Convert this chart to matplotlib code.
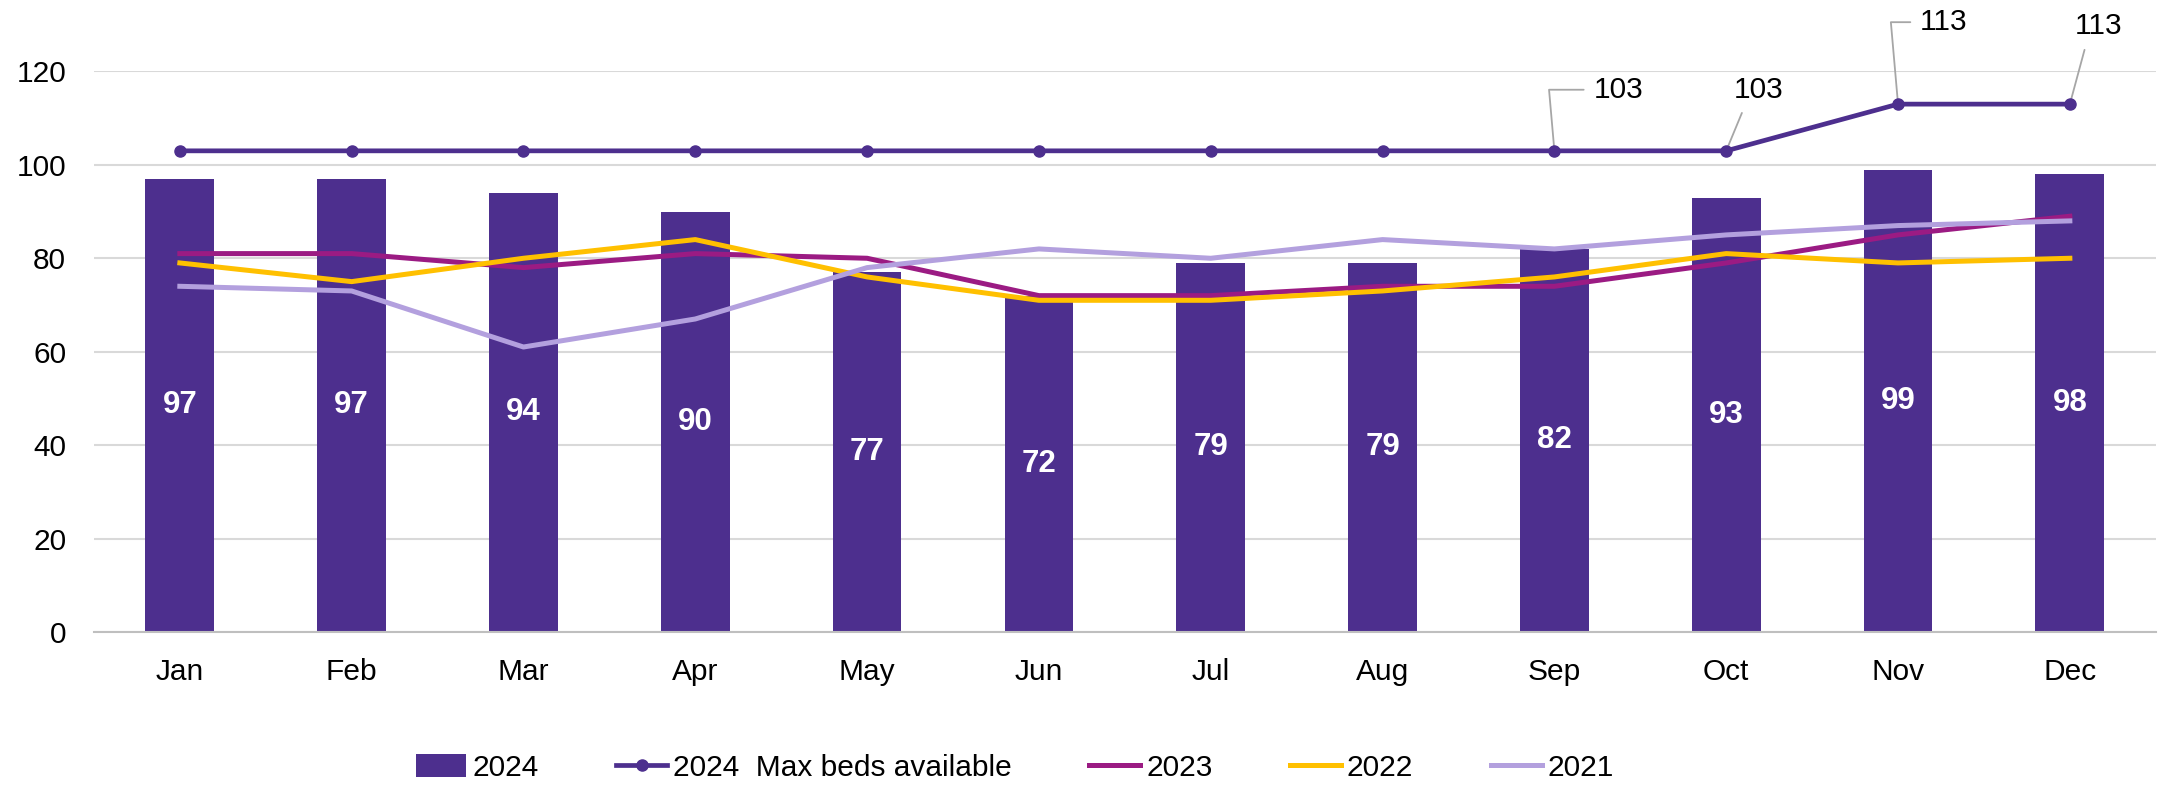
"""
Monthly bed occupancy 2024 (bars) against max beds available and prior years.
"""

import numpy as np
import matplotlib.pyplot as plt
from matplotlib.patches import Patch
from matplotlib.lines import Line2D

plt.rcParams['font.family'] = ['Liberation Sans', 'DejaVu Sans']

months = ["Jan", "Feb", "Mar", "Apr", "May", "Jun",
          "Jul", "Aug", "Sep", "Oct", "Nov", "Dec"]
beds_2024 = [97, 97, 94, 90, 77, 72, 79, 79, 82, 93, 99, 98]
max_beds_2024 = [103, 103, 103, 103, 103, 103, 103, 103, 103, 103, 113, 113]
beds_2023 = [81, 81, 78, 81, 80, 72, 72, 74, 74, 79, 85, 89]
beds_2022 = [79, 75, 80, 84, 76, 71, 71, 73, 76, 81, 79, 80]
beds_2021 = [74, 73, 61, 67, 78, 82, 80, 84, 82, 85, 87, 88]

# only the last four points of the max-beds line carry a label
labelled_months = ["Sep", "Oct", "Nov", "Dec"]

PURPLE = "#4D2F8E"
MAGENTA = "#9B1B83"
YELLOW = "#FFC000"
LAVENDER = "#B3A0DE"
FS = 21.5

fig = plt.figure(figsize=(21.59, 7.85), dpi=100)
ax = fig.add_axes([0.0435, 0.195, 0.955, 0.714])

x = np.arange(len(months))
ax.bar(x, beds_2024, width=0.4, color=PURPLE, zorder=2)
for xi, v in zip(x, beds_2024):
    ax.text(xi, v / 2, str(v), ha="center", va="center", color="white",
            fontsize=FS + 1, fontweight="bold", zorder=5)

ax.plot(x, beds_2023, color=MAGENTA, lw=3.6, zorder=3)
ax.plot(x, beds_2022, color=YELLOW, lw=3.6, zorder=3)
ax.plot(x, beds_2021, color=LAVENDER, lw=3.6, zorder=3)
ax.plot(x, max_beds_2024, color=PURPLE, lw=3.4, marker="o", markersize=8, zorder=4)

# leader-line labels (offsets in points)
offsets = {"Sep": (46, 44), "Oct": (23, 44), "Nov": (33, 59), "Dec": (21, 56)}
for m in labelled_months:
    i = months.index(m)
    dx, dy = offsets[m]
    if m in ("Sep", "Nov"):
        conn = "angle,angleA=180,angleB=95,rad=0"
        rel = (0.0, 0.5)
    else:
        conn = "arc3"
        rel = (0.25, 0.0)
    ax.annotate(str(max_beds_2024[i]), xy=(i, max_beds_2024[i]),
                xytext=(dx, dy), textcoords="offset points",
                ha="center", va="center", fontsize=FS, color="black",
                annotation_clip=False,
                arrowprops=dict(arrowstyle="-", color="#A6A6A6", lw=1.3,
                                connectionstyle=conn, relpos=rel,
                                shrinkA=5, shrinkB=3))

ax.set_xlim(-0.5, len(months) - 0.5)
ax.set_ylim(0, 120)
ax.set_yticks(range(0, 121, 20))
ax.set_xticks(x)
ax.set_xticklabels(months)
ax.tick_params(axis="both", length=0, labelsize=FS)
ax.tick_params(axis="x", pad=19)
ax.tick_params(axis="y", pad=20)
ax.grid(axis="y", color="#D9D9D9", lw=1.5, zorder=0)
ax.set_axisbelow(True)
for side in ("top", "right", "left"):
    ax.spines[side].set_visible(False)
ax.spines["bottom"].set_color("#BFBFBF")
ax.spines["bottom"].set_linewidth(1.5)

handles = [
    Patch(facecolor=PURPLE),
    Line2D([], [], color=PURPLE, lw=3.4, marker="o", markersize=8),
    Line2D([], [], color=MAGENTA, lw=3.6),
    Line2D([], [], color=YELLOW, lw=3.6),
    Line2D([], [], color=LAVENDER, lw=3.6),
]
labels = ["2024", "2024  Max beds available", "2023", "2022", "2021"]
fig.legend(handles, labels, loc="center", bbox_to_anchor=(0.47, 0.022),
           ncol=5, frameon=False, fontsize=FS, handlelength=1.7,
           handleheight=0.85, handletextpad=0.2, columnspacing=2.6)

fig.savefig("out.png", dpi=100)
